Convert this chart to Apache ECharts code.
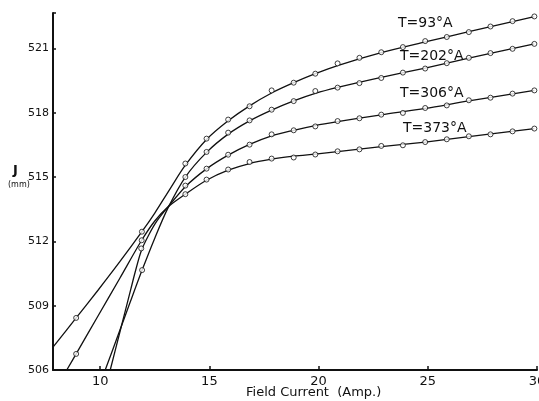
<!DOCTYPE html>
<html>
<head>
<meta charset="utf-8">
<script src="https://cdn.jsdelivr.net/npm/echarts@6/dist/echarts.min.js"></script>
<style>
  html, body { margin: 0; padding: 0; background: #fff; }
  #chart { width: 539px; height: 401px; }
</style>
</head>
<body>
<div id="chart"></div>
<script>
// field current (Amp.) of the plotted circles from 14 A up
var fieldAmps = [13.9, 14.87, 15.86, 16.84, 17.85, 18.86, 19.85, 20.87, 21.87, 22.87, 23.86, 24.88, 25.87, 26.88, 27.87, 28.88, 29.88];

// J (mm) of the circles at those currents, one list per temperature
var j93  = [515.63, 516.79, 517.68, 518.30, 519.04, 519.40, 519.82, 520.30, 520.56, 520.82, 521.06, 521.34, 521.53, 521.76, 522.02, 522.27, 522.49];
var j202 = [515.00, 516.17, 517.07, 517.64, 518.14, 518.54, 519.01, 519.17, 519.38, 519.62, 519.87, 520.06, 520.31, 520.56, 520.78, 520.98, 521.21];
var j306 = [514.60, 515.39, 516.04, 516.51, 516.99, 517.18, 517.36, 517.61, 517.74, 517.91, 517.99, 518.22, 518.34, 518.58, 518.70, 518.89, 519.04];
var j373 = [514.20, 514.88, 515.35, 515.70, 515.86, 515.91, 516.05, 516.20, 516.29, 516.45, 516.48, 516.63, 516.76, 516.90, 516.99, 517.13, 517.26];

// low field circles [amp, mm]
var low93  = [[8.9, 508.43], [11.91, 512.45]];
var low202 = [[11.92, 510.66]];
var low306 = [[11.88, 511.67]];
var low373 = [[8.9, 506.75], [11.9, 512.05]];

// the hand drawn curves [amp, mm]
var fit93 = [[7.84, 507.07], [8.9, 508.43], [9.9, 509.72], [10.9, 511.05], [11.91, 512.45], [12.5, 513.32],
  [13.2, 514.45], [13.9, 515.55], [14.87, 516.75], [15.86, 517.62], [16.84, 518.32], [17.85, 518.92],
  [18.86, 519.4], [19.85, 519.82], [20.87, 520.2], [22.87, 520.8], [24.88, 521.3], [26.88, 521.78], [29.88, 522.48]];
var fit202 = [[10.23, 506], [10.8, 507.57], [11.35, 509.1], [11.92, 510.66], [12.5, 512.15], [13.1, 513.55],
  [13.9, 515.0], [14.87, 516.15], [15.86, 517.0], [16.84, 517.62], [17.85, 518.12], [18.86, 518.55],
  [19.85, 518.9], [20.87, 519.18], [22.87, 519.65], [24.88, 520.08], [26.88, 520.55], [29.88, 521.21]];
var fit306 = [[10.46, 506], [10.9, 507.76], [11.4, 509.76], [11.6, 510.56], [11.88, 511.55], [12.2, 512.25],
  [12.6, 512.95], [13.1, 513.6], [13.9, 514.55], [14.87, 515.38], [15.86, 516.02], [16.84, 516.52], [17.85, 516.92],
  [18.86, 517.18], [19.85, 517.4], [20.87, 517.58], [22.87, 517.9], [24.88, 518.2], [26.88, 518.55], [29.88, 519.04]];
var fit373 = [[8.47, 506], [8.9, 506.75], [9.9, 508.52], [10.9, 510.28], [11.9, 512.05], [12.5, 512.95],
  [13.1, 513.6], [13.9, 514.2], [14.87, 514.85], [15.86, 515.32], [16.84, 515.63], [17.85, 515.83],
  [18.86, 515.97], [19.85, 516.07], [20.87, 516.18], [22.87, 516.42], [24.88, 516.63], [26.88, 516.88], [29.88, 517.26]];

var curveNames = ['T=93°A', 'T=202°A', 'T=306°A', 'T=373°A'];
var xTicks = [10, 15, 20, 25, 30];
var yTicks = [506, 509, 512, 515, 518, 521];

function circles(low, ys) {
  var data = low.slice();
  ys.forEach(function (y, i) { data.push([fieldAmps[i], y]); });
  return data;
}

function curve(name, data) {
  return {
    name: name,
    type: 'line',
    data: data,
    smooth: 0.3,
    showSymbol: false,
    symbol: 'none',
    clip: true,
    lineStyle: { color: '#111', width: 1.3 },
    emphasis: { disabled: true },
    z: 2
  };
}

function dots(name, data) {
  return {
    name: name,
    type: 'scatter',
    data: data,
    symbol: 'circle',
    symbolSize: 5,
    itemStyle: { color: '#fff', borderColor: '#111', borderWidth: 1 },
    emphasis: { disabled: true },
    z: 3
  };
}

var chart = echarts.init(document.getElementById('chart'));

var txt = { fill: '#111' };

chart.setOption({
  backgroundColor: '#fff',
  animation: false,
  grid: { left: 53, right: 2, top: 13, bottom: 31, containLabel: false, outerBoundsMode: 'none' },
  xAxis: {
    type: 'value',
    min: 7.84,
    max: 30,
    splitNumber: 5,
    axisLine: { lineStyle: { color: '#111', width: 2 } },
    axisTick: { inside: true, length: 4, lineStyle: { color: '#111', width: 1.5 } },
    axisLabel: {
      color: '#111', fontSize: 13, fontFamily: 'DejaVu Sans', margin: 5,
      formatter: function (v) { return xTicks.indexOf(v) >= 0 ? String(v) : ''; }
    },
    splitLine: { show: false }
  },
  yAxis: {
    type: 'value',
    min: 506,
    max: 522.65,
    interval: 3,
    axisLine: { lineStyle: { color: '#111', width: 2 } },
    axisTick: { inside: true, length: 3, lineStyle: { color: '#111', width: 1.5 } },
    axisLabel: {
      color: '#111', fontSize: 11, fontFamily: 'DejaVu Sans', margin: 4,
      formatter: function (v) { return yTicks.indexOf(v) >= 0 ? String(v) : ''; }
    },
    splitLine: { show: false }
  },
  series: [
    curve(curveNames[0], fit93),
    curve(curveNames[1], fit202),
    curve(curveNames[2], fit306),
    curve(curveNames[3], fit373),
    dots(curveNames[0], circles(low93, j93)),
    dots(curveNames[1], circles(low202, j202)),
    dots(curveNames[2], circles(low306, j306)),
    dots(curveNames[3], circles(low373, j373))
  ],
  graphic: [
    { type: 'text', left: 398, top: 16, style: Object.assign({ text: curveNames[0], font: '14px DejaVu Sans' }, txt) },
    { type: 'text', left: 400, top: 49, style: Object.assign({ text: curveNames[1], font: '14px DejaVu Sans' }, txt) },
    { type: 'text', left: 400, top: 86, style: Object.assign({ text: curveNames[2], font: '14px DejaVu Sans' }, txt) },
    { type: 'text', left: 403, top: 121, style: Object.assign({ text: curveNames[3], font: '14px DejaVu Sans' }, txt) },
    { type: 'text', left: 13, top: 164, style: Object.assign({ text: 'J', font: 'bold 13px DejaVu Sans' }, txt) },
    { type: 'text', left: 8, top: 181, style: Object.assign({ text: '(mm)', font: '8px DejaVu Sans' }, txt) },
    { type: 'text', left: 246, top: 386, style: Object.assign({ text: 'Field Current  (Amp.)', font: '13px DejaVu Sans' }, txt) }
  ]
});
</script>
</body>
</html>
